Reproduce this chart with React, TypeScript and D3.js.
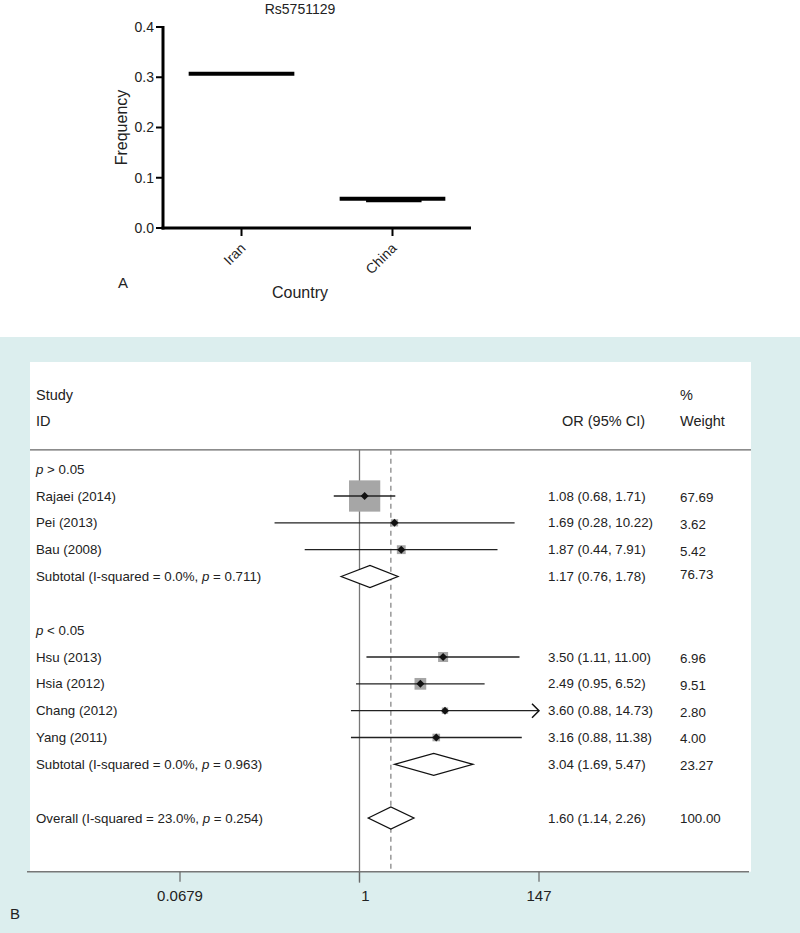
import React from "react";
import * as d3 from "d3";

// Panel A data
const countries = ["Iran", "China"];
const meanFreq = [0.307, 0.058];
const innerCountry = ["China"];
const innerFreq = [0.055];
const freqTicks = [0, 0.1, 0.2, 0.3, 0.4];

// Panel B data
const studies = ["Rajaei (2014)", "Pei (2013)", "Bau (2008)", "Hsu (2013)", "Hsia (2012)", "Chang (2012)", "Yang (2011)"];
const studyRow = [0, 1, 2, 6, 7, 8, 9];
const orVal = [1.08, 1.69, 1.87, 3.5, 2.49, 3.6, 3.16];
const orLo = [0.68, 0.28, 0.44, 1.11, 0.95, 0.88, 0.88];
const orHi = [1.71, 10.22, 7.91, 11.0, 6.52, 14.73, 11.38];
const weights = [67.69, 3.62, 5.42, 6.96, 9.51, 2.8, 4.0];

const pooledLabel = ["Subtotal (I-squared = 0.0%, ", "Subtotal (I-squared = 0.0%, ", "Overall (I-squared = 23.0%, "];
const pooledP = ["0.711", "0.963", "0.254"];
const pooledRow = [3, 10, 12];
const pooledOr = [1.17, 3.04, 1.6];
const pooledLo = [0.76, 1.69, 1.14];
const pooledHi = [1.78, 5.47, 2.26];
const pooledW = [76.73, 23.27, 100.0];

const groupLabels = ["> 0.05", "< 0.05"];
const groupRow = [-1, 5];

const axisTicks = [0.0679, 1, 14.73];
const axisTickLabels = ["0.0679", "1", "147"];

const fmt2 = d3.format(".2f");

export default function App() {
  // ---------- Panel A ----------
  const yA = d3.scaleLinear().domain([0, 0.4]).range([228, 27]);
  const xA = d3.scalePoint<string>().domain(countries).range([163, 471]).padding(0.52);
  const half = xA.step() * 0.35;

  // ---------- Panel B ----------
  const xB = d3.scaleLog().domain([0.0679, 14.73]).range([180, 539]);
  const yB = d3.scaleLinear().domain([0, 12]).range([496, 818]);
  const boxSide = d3.scaleSqrt().domain([0, 100]).range([0, 38]);
  const axisY = yB(14);
  const headerLineY = yB(-1.72);
  const rowFont = "'Liberation Sans Narrow', 'Arial Narrow', sans-serif";
  const sans = "'Liberation Sans', Arial, Helvetica, sans-serif";
  const colLabel = 36;
  const colOr = 548;
  const colW = 680;
  const txt = "#222";

  return (
    <svg width={800} height={933} style={{ display: "block", position: "absolute", left: 0, top: 0 }} fontFamily={sans}>
      <rect x={0} y={0} width={800} height={933} fill="#fff" />
      {/* Panel A */}
      <text x={300} y={14} textAnchor="middle" fontSize={14} fill={txt}>Rs5751129</text>
      <line x1={163} x2={163} y1={yA(0.4) - 1} y2={yA(0) + 1.5} stroke="#000" strokeWidth={3} />
      <line x1={161.5} x2={471} y1={yA(0)} y2={yA(0)} stroke="#000" strokeWidth={3} />
      {freqTicks.map((t) => (
        <g key={t}>
          <line x1={156} x2={163} y1={yA(t)} y2={yA(t)} stroke="#000" strokeWidth={2} />
          <text x={154} y={yA(t)} dy="0.35em" textAnchor="end" fontSize={14} fill={txt}>{t.toFixed(1)}</text>
        </g>
      ))}
      {countries.map((c) => (
        <g key={c}>
          <line x1={xA(c)} x2={xA(c)} y1={yA(0)} y2={yA(0) + 8} stroke="#000" strokeWidth={2} />
          <text transform={`translate(${(xA(c) as number) + 5},${yA(0) + 21}) rotate(-45)`} textAnchor="end" fontSize={14} fill={txt}>{c}</text>
        </g>
      ))}
      {countries.map((c, i) => (
        <line key={c} x1={(xA(c) as number) - half} x2={(xA(c) as number) + half} y1={yA(meanFreq[i])} y2={yA(meanFreq[i])} stroke="#000" strokeWidth={4} />
      ))}
      {innerCountry.map((c, i) => (
        <line key={c} x1={(xA(c) as number) - half * 0.5} x2={(xA(c) as number) + half * 0.55} y1={yA(innerFreq[i])} y2={yA(innerFreq[i])} stroke="#000" strokeWidth={4} />
      ))}
      <text transform={`translate(127,${yA(0.2)}) rotate(-90)`} textAnchor="middle" fontSize={16} fill={txt}>Frequency</text>
      <text x={300} y={298} textAnchor="middle" fontSize={16} fill={txt}>Country</text>
      <text x={118} y={288} fontSize={15} fill={txt}>A</text>

      {/* Panel B */}
      <rect x={0} y={337} width={800} height={596} fill="#dceeee" />
      <rect x={30} y={362} width={721} height={axisY - 362} fill="#fff" />
      <g fontFamily={rowFont} fill={txt} fontSize={14.5}>
        <text x={colLabel} y={yB(-3.75)} dy="0.35em">Study</text>
        <text x={colLabel} y={yB(-2.78)} dy="0.35em">ID</text>
        <text x={colOr + 14} y={yB(-2.78)} dy="0.35em">OR (95% CI)</text>
        <text x={colW} y={yB(-3.75)} dy="0.35em">%</text>
        <text x={colW} y={yB(-2.78)} dy="0.35em">Weight</text>
      </g>
      <line x1={30} x2={751} y1={headerLineY} y2={headerLineY} stroke="#666" strokeWidth={1.3} />
      <line x1={xB(1)} x2={xB(1)} y1={headerLineY} y2={axisY + 11} stroke="#777" strokeWidth={1.3} />
      <line x1={xB(pooledOr[2])} x2={xB(pooledOr[2])} y1={headerLineY} y2={axisY} stroke="#888" strokeWidth={1.3} strokeDasharray="5,4" />

      <g fontFamily={rowFont} fontSize={13.3} fill={txt}>
        {groupLabels.map((g, i) => (
          <text key={g} x={colLabel} y={yB(groupRow[i])} dy="0.35em">
            <tspan fontStyle="italic">p</tspan>{" " + g}
          </text>
        ))}
        {studies.map((s, i) => {
          const y = yB(studyRow[i]);
          const side = boxSide(weights[i]);
          const cx = xB(orVal[i]);
          const atMax = orHi[i] >= xB.domain()[1];
          return (
            <g key={s}>
              <text x={colLabel} y={y} dy="0.35em">{s}</text>
              <rect x={cx - side / 2} y={y - side / 2} width={side} height={side} fill="#a6a6a6" />
              <line x1={xB(orLo[i])} x2={xB(Math.min(orHi[i], xB.domain()[1]))} y1={y} y2={y} stroke="#222" strokeWidth={1.3} />
              {atMax && (
                <polyline points={`${xB(orHi[i]) - 7},${y - 7} ${xB(orHi[i])},${y} ${xB(orHi[i]) - 7},${y + 7}`} fill="none" stroke="#111" strokeWidth={1.5} />
              )}
              <path d={`M${cx - 4},${y}L${cx},${y - 4}L${cx + 4},${y}L${cx},${y + 4}Z`} fill="#111" />
              <text x={colOr} y={y} dy="0.35em">{`${fmt2(orVal[i])} (${fmt2(orLo[i])}, ${fmt2(orHi[i])})`}</text>
              <text x={colW} y={y} dy="0.45em">{fmt2(weights[i])}</text>
            </g>
          );
        })}
        {pooledLabel.map((lab, i) => {
          const y = yB(pooledRow[i]);
          const cx = xB(pooledOr[i]);
          return (
            <g key={i}>
              <text x={colLabel} y={y} dy="0.35em">
                {lab}<tspan fontStyle="italic">p</tspan>{` = ${pooledP[i]})`}
              </text>
              <path d={`M${xB(pooledLo[i])},${y}L${cx},${y - 11}L${xB(pooledHi[i])},${y}L${cx},${y + 11}Z`} fill="#fff" stroke="#111" strokeWidth={1.3} />
              <text x={colOr} y={y} dy="0.35em">{`${fmt2(pooledOr[i])} (${fmt2(pooledLo[i])}, ${fmt2(pooledHi[i])})`}</text>
              <text x={colW} y={y} dy={i === 0 ? "0.2em" : "0.4em"}>{fmt2(pooledW[i])}</text>
            </g>
          );
        })}
      </g>

      <line x1={27} x2={749} y1={axisY} y2={axisY} stroke="#777" strokeWidth={1.5} />
      {axisTicks.map((t, i) => (
        <g key={t}>
          <line x1={xB(t)} x2={xB(t)} y1={axisY} y2={axisY + 10} stroke="#666" strokeWidth={1.2} />
          <text x={xB(t) + (i === 1 ? 6 : 0)} y={axisY + 24} dy="0.35em" textAnchor="middle" fontFamily={rowFont} fontSize={15} fill={txt}>{axisTickLabels[i]}</text>
        </g>
      ))}
      <text x={10} y={914} dy="0.35em" fontFamily={rowFont} fontSize={15} fill={txt}>B</text>
    </svg>
  );
}
